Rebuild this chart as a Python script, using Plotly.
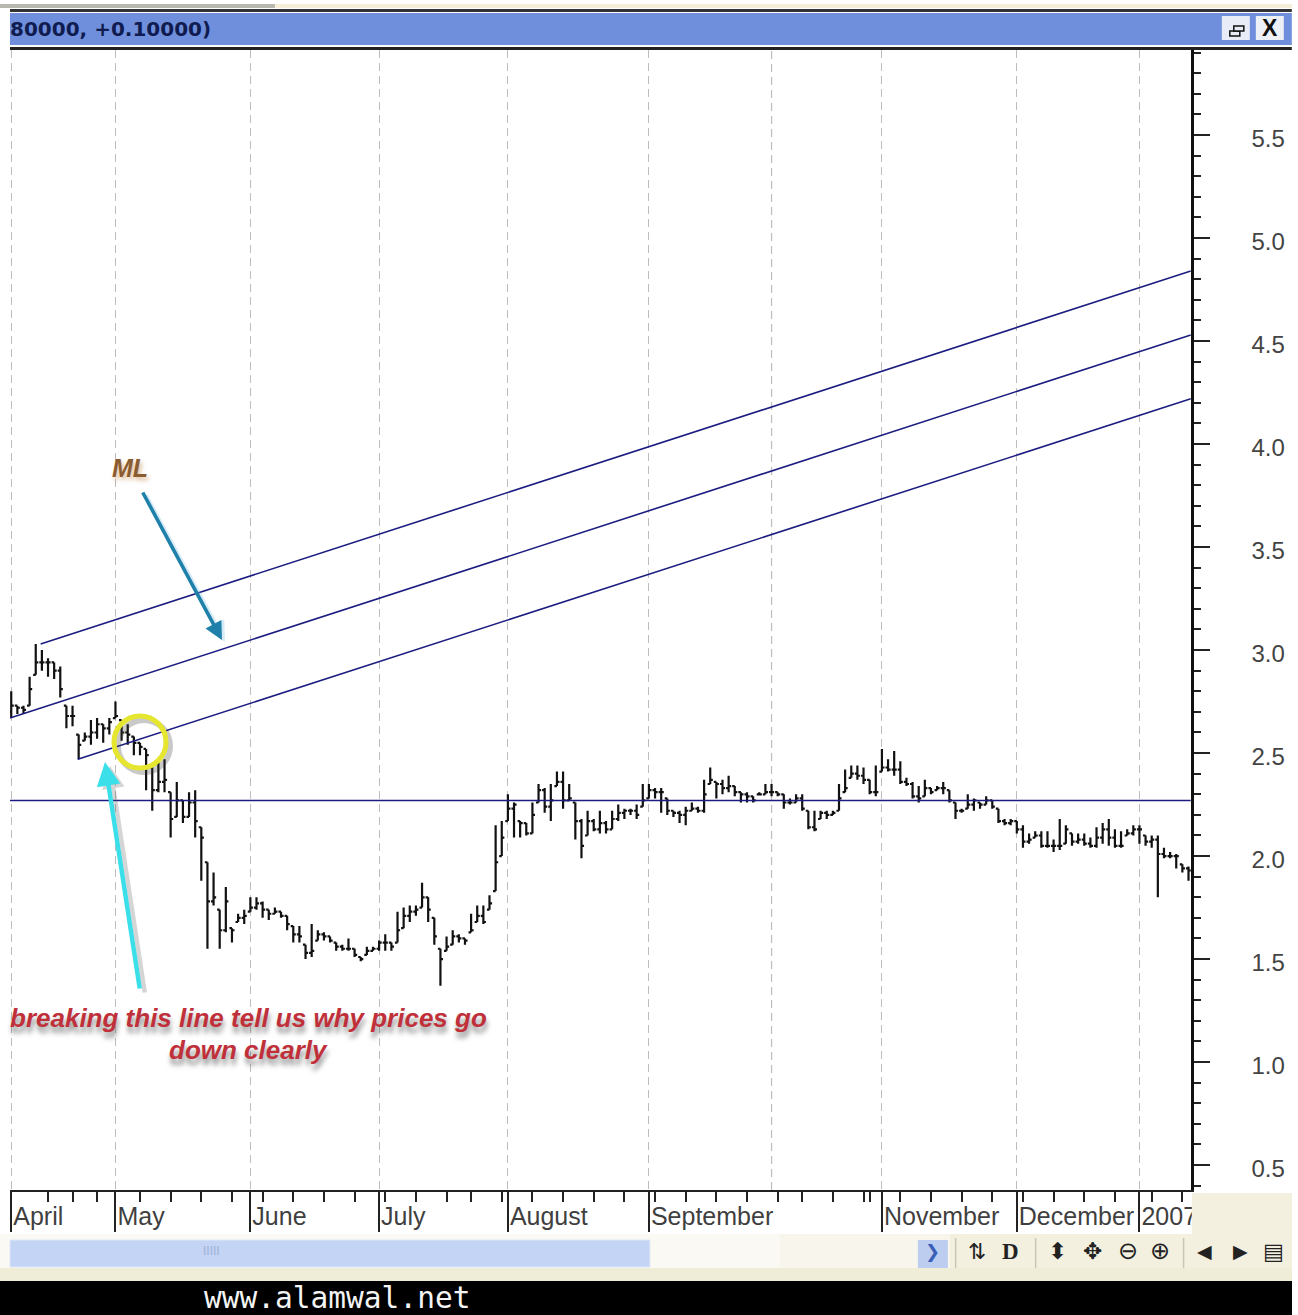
import plotly.graph_objects as go

W, H = 1298, 1315

month_names = ["April", "May", "June", "July", "August", "September", "November", "December", "2007"]
month_bars = [0, 17, 39, 60, 81, 104, 142, 164, 184]
october_bar = 124
week_bars = [6, 10, 14, 21, 26, 31, 36, 41, 46, 51, 56, 61, 66, 71, 75, 80, 85, 90, 95, 100,
             105, 110, 115, 120, 125, 129, 134, 139, 140, 145, 150, 155, 160, 165, 170, 175, 180, 186, 191]
price_ticks = [0.5, 1.0, 1.5, 2.0, 2.5, 3.0, 3.5, 4.0, 4.5, 5.0, 5.5]
price_labels = ["0.5", "1.0", "1.5", "2.0", "2.5", "3.0", "3.5", "4.0", "4.5", "5.0", "5.5"]

highs = [2.80,2.73,2.73,2.87,3.03,3.00,2.96,2.94,2.92,2.73,
         2.73,2.59,2.60,2.66,2.67,2.64,2.67,2.75,2.66,2.64,
         2.58,2.55,2.52,2.43,2.47,2.47,2.31,2.36,2.27,2.31,
         2.32,2.14,1.97,1.92,1.74,1.85,1.65,1.72,1.74,1.80,
         1.80,1.78,1.74,1.75,1.73,1.71,1.66,1.66,1.57,1.67,
         1.64,1.63,1.61,1.58,1.57,1.60,1.55,1.51,1.56,1.56,
         1.59,1.62,1.58,1.73,1.75,1.76,1.76,1.87,1.80,1.70,
         1.55,1.61,1.64,1.62,1.60,1.72,1.76,1.76,1.81,2.15,
         2.17,2.30,2.26,2.17,2.16,2.26,2.35,2.33,2.35,2.41,
         2.41,2.35,2.26,2.18,2.22,2.18,2.22,2.17,2.22,2.25,
         2.23,2.23,2.25,2.35,2.35,2.33,2.33,2.28,2.22,2.22,
         2.24,2.26,2.24,2.37,2.43,2.36,2.37,2.39,2.34,2.31,
         2.31,2.29,2.31,2.35,2.35,2.31,2.30,2.28,2.30,2.30,
         2.22,2.22,2.22,2.22,2.22,2.35,2.42,2.44,2.44,2.43,
         2.37,2.44,2.52,2.47,2.51,2.46,2.38,2.36,2.34,2.37,
         2.33,2.34,2.36,2.32,2.26,2.23,2.30,2.28,2.26,2.29,
         2.27,2.23,2.18,2.18,2.17,2.15,2.11,2.12,2.12,2.12,
         2.08,2.18,2.15,2.11,2.11,2.11,2.09,2.14,2.16,2.18,
         2.13,2.12,2.13,2.15,2.15,2.10,2.10,2.10,2.04,2.02,
         2.01,1.96,1.95]
lows = [2.67,2.69,2.69,2.73,2.88,2.90,2.87,2.86,2.77,2.62,
        2.63,2.47,2.56,2.54,2.57,2.55,2.59,2.67,2.56,2.54,
        2.49,2.49,2.32,2.22,2.31,2.31,2.09,2.19,2.16,2.19,
        2.09,1.88,1.55,1.76,1.55,1.63,1.58,1.68,1.67,1.73,
        1.74,1.70,1.69,1.72,1.70,1.64,1.58,1.58,1.50,1.51,
        1.59,1.59,1.58,1.54,1.54,1.54,1.51,1.49,1.52,1.54,
        1.54,1.54,1.54,1.58,1.65,1.68,1.71,1.75,1.68,1.57,
        1.37,1.54,1.57,1.58,1.57,1.63,1.68,1.67,1.74,1.83,
        2.00,2.17,2.09,2.09,2.10,2.11,2.26,2.21,2.17,2.34,
        2.23,2.27,2.08,1.99,2.10,2.12,2.11,2.11,2.13,2.17,
        2.18,2.20,2.18,2.24,2.28,2.28,2.21,2.20,2.19,2.16,
        2.15,2.22,2.21,2.21,2.35,2.28,2.30,2.31,2.29,2.26,
        2.26,2.26,2.30,2.30,2.29,2.29,2.23,2.25,2.26,2.22,
        2.13,2.12,2.18,2.18,2.20,2.22,2.31,2.38,2.37,2.35,
        2.30,2.29,2.41,2.41,2.39,2.35,2.34,2.28,2.26,2.29,
        2.30,2.32,2.30,2.26,2.18,2.21,2.23,2.22,2.23,2.25,
        2.23,2.16,2.15,2.15,2.11,2.04,2.06,2.09,2.04,2.04,
        2.02,2.03,2.06,2.05,2.06,2.05,2.04,2.04,2.06,2.05,
        2.04,2.04,2.10,2.10,2.06,2.05,2.04,1.80,1.99,1.99,
        1.94,1.92,1.88]
closes = [2.73,2.72,2.71,2.81,2.94,2.94,2.94,2.90,2.81,2.68,
          2.68,2.54,2.58,2.60,2.64,2.62,2.65,2.68,2.60,2.59,
          2.55,2.53,2.49,2.32,2.36,2.37,2.18,2.27,2.19,2.26,
          2.17,2.09,1.78,1.80,1.64,1.78,1.64,1.70,1.71,1.75,
          1.77,1.74,1.72,1.73,1.71,1.67,1.62,1.61,1.53,1.54,
          1.62,1.61,1.59,1.56,1.55,1.55,1.52,1.50,1.54,1.55,
          1.58,1.58,1.56,1.64,1.71,1.73,1.74,1.80,1.74,1.61,
          1.50,1.56,1.61,1.60,1.59,1.64,1.71,1.68,1.77,1.97,
          2.09,2.23,2.25,2.16,2.11,2.20,2.32,2.24,2.27,2.36,
          2.27,2.28,2.17,2.05,2.17,2.13,2.16,2.13,2.18,2.21,
          2.22,2.22,2.20,2.27,2.32,2.31,2.31,2.22,2.21,2.20,
          2.22,2.23,2.22,2.30,2.37,2.35,2.33,2.34,2.31,2.30,
          2.29,2.27,2.30,2.31,2.31,2.30,2.26,2.26,2.28,2.23,
          2.14,2.13,2.21,2.20,2.21,2.28,2.33,2.40,2.39,2.37,
          2.31,2.31,2.43,2.42,2.42,2.36,2.35,2.29,2.28,2.33,
          2.31,2.33,2.33,2.27,2.22,2.22,2.25,2.27,2.25,2.27,
          2.24,2.17,2.16,2.17,2.13,2.07,2.08,2.10,2.05,2.05,
          2.05,2.05,2.13,2.07,2.08,2.06,2.05,2.09,2.13,2.09,
          2.05,2.05,2.11,2.13,2.13,2.07,2.08,2.01,2.00,2.00,
          2.00,1.94,1.93]
opens = [2.70,2.73,2.72,2.73,2.88,2.94,2.94,2.94,2.90,2.73,
         2.68,2.59,2.56,2.58,2.60,2.64,2.62,2.67,2.66,2.60,
         2.58,2.55,2.52,2.43,2.32,2.36,2.31,2.19,2.27,2.19,
         2.26,2.14,1.97,1.78,1.74,1.64,1.65,1.68,1.70,1.73,
         1.75,1.77,1.74,1.72,1.73,1.71,1.66,1.62,1.57,1.53,
         1.59,1.62,1.61,1.58,1.56,1.55,1.55,1.51,1.52,1.54,
         1.55,1.58,1.58,1.58,1.65,1.71,1.73,1.75,1.80,1.70,
         1.55,1.54,1.57,1.61,1.60,1.63,1.68,1.71,1.74,1.83,
         2.00,2.17,2.23,2.17,2.16,2.11,2.26,2.32,2.24,2.34,
         2.36,2.27,2.26,2.17,2.10,2.17,2.13,2.16,2.13,2.18,
         2.21,2.22,2.22,2.24,2.28,2.32,2.31,2.28,2.22,2.21,
         2.20,2.22,2.23,2.22,2.35,2.36,2.35,2.33,2.34,2.31,
         2.30,2.29,2.30,2.30,2.31,2.31,2.30,2.26,2.26,2.28,
         2.22,2.14,2.18,2.21,2.20,2.22,2.31,2.38,2.40,2.39,
         2.37,2.31,2.41,2.43,2.42,2.42,2.36,2.35,2.29,2.29,
         2.33,2.32,2.33,2.32,2.26,2.22,2.23,2.25,2.26,2.25,
         2.27,2.23,2.17,2.16,2.17,2.13,2.07,2.09,2.10,2.05,
         2.05,2.05,2.06,2.11,2.07,2.08,2.06,2.05,2.09,2.13,
         2.09,2.05,2.10,2.11,2.13,2.10,2.07,2.08,2.01,2.00,
         2.00,1.96,1.94]
bar_index = list(range(len(closes)))

x_range = [-0.2, 192.38]
upper_line_x = [4.8, 192.38]
upper_line_y = [3.03, 4.84]
median_line_x = [-0.2, 192.38]
median_line_y = [2.67, 4.53]
lower_line_x = [10.85, 192.38]
lower_line_y = [2.47, 4.22]
flat_line_x = [-0.2, 192.38]
flat_line_y = [2.27, 2.27]

NAVY = "#1c1c80"
BEIGE = "#f3f0e0"
XFIT = 1.0045


def px(x):
    return min(x * XFIT / W, 1)


def py(y):
    return 1 - y / H


fig = go.Figure()
fig.add_trace(go.Ohlc(
    x=bar_index, open=opens, high=highs, low=lows, close=closes,
    tickwidth=0.42, showlegend=False,
    increasing=dict(line=dict(color="#111111", width=2.2)),
    decreasing=dict(line=dict(color="#111111", width=2.2)),
))
for xs, ys in [(upper_line_x, upper_line_y), (median_line_x, median_line_y),
               (lower_line_x, lower_line_y), (flat_line_x, flat_line_y)]:
    fig.add_trace(go.Scatter(x=xs, y=ys, mode="lines", showlegend=False,
                             line=dict(color=NAVY, width=1.6), hoverinfo="skip"))


def rect(x0, y0, x1, y1, fill, line=None, layer="below", lw=1):
    fig.add_shape(type="rect", xref="paper", yref="paper", x0=px(x0), x1=px(x1), y0=py(y1), y1=py(y0),
                  fillcolor=fill, line=dict(color=line or fill, width=lw if line else 0), layer=layer)


def text(x, y, s, size, color="#333333", family="Liberation Sans", anchor="center", bold=False, italic=False, shadow=None):
    font = dict(size=size, color=color, family=family, weight="bold" if bold else "normal",
                style="italic" if italic else "normal")
    if shadow:
        font["shadow"] = shadow
    fig.add_annotation(xref="paper", yref="paper", x=px(x), y=py(y), text=s, showarrow=False,
                       xanchor=anchor, yanchor="middle", font=font)


# window chrome, top
rect(0, 4, 275, 8, "#b8b8b0")
rect(275, 4, 1292, 8, "#f5eed8")
rect(10, 9, 1292, 12, "#333333")
rect(10, 13, 1292, 45, "#6f8fdc")
rect(10, 47, 1292, 50, "#222222")
text(8, 29, "80000, +0.10000)", 20, color="#101c50", family="DejaVu Sans", anchor="left", bold=True)
rect(1222, 16, 1250, 40, "#e8ecf6", layer="above")
rect(1256, 16, 1284, 40, "#eef0f8", layer="above")
rect(1230, 31, 1240, 36, "#e8ecf6", line="#111111", layer="above", lw=1.5)
rect(1234, 26, 1244, 31, "#e8ecf6", line="#111111", layer="above", lw=1.5)
text(1270, 28, "X", 23, color="#111111", bold=True)

# window chrome, bottom
rect(1192, 1193, 1298, 1240, BEIGE, layer="above")
rect(0, 1234, 780, 1268, "#faf9f3")
rect(780, 1234, 950, 1268, "#f8f6ec")
rect(950, 1234, 1298, 1268, BEIGE)
rect(10, 1240, 650, 1267, "#c4d4f4", line="#dfe7f8")
text(212, 1251, "IIIII", 12, color="#9fb2d8")
rect(918, 1240, 948, 1268, "#bccdf0")
text(933, 1252, "❯", 18, color="#3a5fb8", family="DejaVu Sans", bold=True)
for sx in [955, 1035, 1183]:
    rect(sx, 1238, sx + 1.5, 1268, "#c8c6b8")
text(977, 1251, "⇅", 22, color="#222222", family="DejaVu Sans")
text(1011, 1251, "D", 23, color="#222222", family="Liberation Serif", bold=True)
text(1058, 1251, "⬍", 23, color="#222222", family="DejaVu Sans")
text(1093, 1251, "✥", 23, color="#222222", family="DejaVu Sans")
text(1128, 1251, "⊖", 24, color="#222222", family="DejaVu Sans")
text(1160, 1251, "⊕", 24, color="#222222", family="DejaVu Sans")
text(1205, 1251, "◀", 19, color="#222222", family="DejaVu Sans")
text(1241, 1251, "▶", 19, color="#222222", family="DejaVu Sans")
text(1274, 1251, "▤", 22, color="#222222", family="DejaVu Sans")
rect(0, 1268, 1298, 1281, "#efecd8")
rect(0, 1281, 1298, 1315, "#000000", layer="above")
text(337, 1298, "www.alamwal.net", 29.5, color="#f4f4f4", family="DejaVu Sans Mono")

# October has a grid line in the reference but no label or long tick
fig.add_shape(type="line", xref="x", yref="paper", x0=october_bar, x1=october_bar, y0=py(1190), y1=py(50),
              line=dict(color="#bdbdbd", width=1.2, dash="8px,5px"), layer="below")

# drawn annotations
fig.add_shape(type="circle", xref="paper", yref="paper", x0=px(118), x1=px(170), y0=py(772), y1=py(720),
              line=dict(color="rgba(60,60,60,0.28)", width=6), layer="above")
fig.add_shape(type="circle", xref="paper", yref="paper", x0=px(114), x1=px(166), y0=py(768), y1=py(716),
              line=dict(color="#e6e630", width=5), layer="above")


def arrow(hx, hy, tx, ty, color, width, size):
    fig.add_annotation(xref="paper", yref="paper", x=px(hx), y=py(hy), ax=tx - hx, ay=ty - hy, text="",
                       showarrow=True, arrowhead=2, arrowsize=size, arrowwidth=width, arrowcolor=color)


arrow(225, 642, 145, 494, "rgba(120,190,230,0.30)", 4.5, 0.9)
arrow(222, 640, 142, 491, "#1f80aa", 3.6, 1.0)
arrow(110, 766, 145, 994, "rgba(70,70,70,0.22)", 4.5, 1.0)
arrow(105, 762, 140, 990, "#3adfea", 4.5, 1.05)

SH = "1px 6px 5px rgba(60,60,60,0.55)"
text(130, 468, "ML", 25, color="#8a5c30", bold=True, italic=True, shadow="2px 3px 4px rgba(200,140,80,0.6)")
text(249, 1018, "breaking this line tell us why prices go", 26, color="#c0303a", bold=True, italic=True, shadow=SH)
text(249, 1050, "down clearly", 26, color="#c0303a", bold=True, italic=True, shadow=SH)

fig.update_layout(
    width=W, height=H, margin=dict(l=0, r=0, t=0, b=0, pad=0), autosize=False,
    paper_bgcolor="#ffffff", plot_bgcolor="rgba(0,0,0,0)", showlegend=False,
    xaxis=dict(
        domain=[px(10), px(1191)], range=x_range, rangeslider=dict(visible=False),
        showline=True, linecolor="#222222", linewidth=2, zeroline=False,
        tickmode="array", tickvals=month_bars, ticktext=month_names,
        ticks="outside", ticklen=40, tickwidth=2, tickcolor="#222222",
        ticklabelposition="outside right", ticklabelstandoff=3,
        tickfont=dict(family="Liberation Sans", size=25, color="#3f3f3f"),
        showgrid=True, gridcolor="#bdbdbd", gridwidth=1.2, griddash="8px,5px",
        minor=dict(tickmode="array", tickvals=week_bars, ticks="outside", ticklen=10, tickwidth=2,
                   tickcolor="#222222", showgrid=False),
    ),
    yaxis=dict(
        domain=[py(1190), py(50)], range=[0.379, 5.913], side="right",
        showline=True, linecolor="#111111", linewidth=2.5, zeroline=False, showgrid=False,
        tickmode="array", tickvals=price_ticks, ticktext=price_labels,
        ticks="outside", ticklen=16, tickwidth=2, tickcolor="#222222",
        ticklabelstandoff=37, ticklabelshift=4,
        tickfont=dict(family="Liberation Sans", size=24, color="#444444"),
        minor=dict(dtick=0.1, tick0=0, ticks="outside", ticklen=7, tickwidth=2, tickcolor="#222222",
                   showgrid=False),
    ),
)

fig.write_html("out.html", config=dict(displayModeBar=False),
               post_script="document.body.style.margin='0';document.body.style.overflow='hidden';")
